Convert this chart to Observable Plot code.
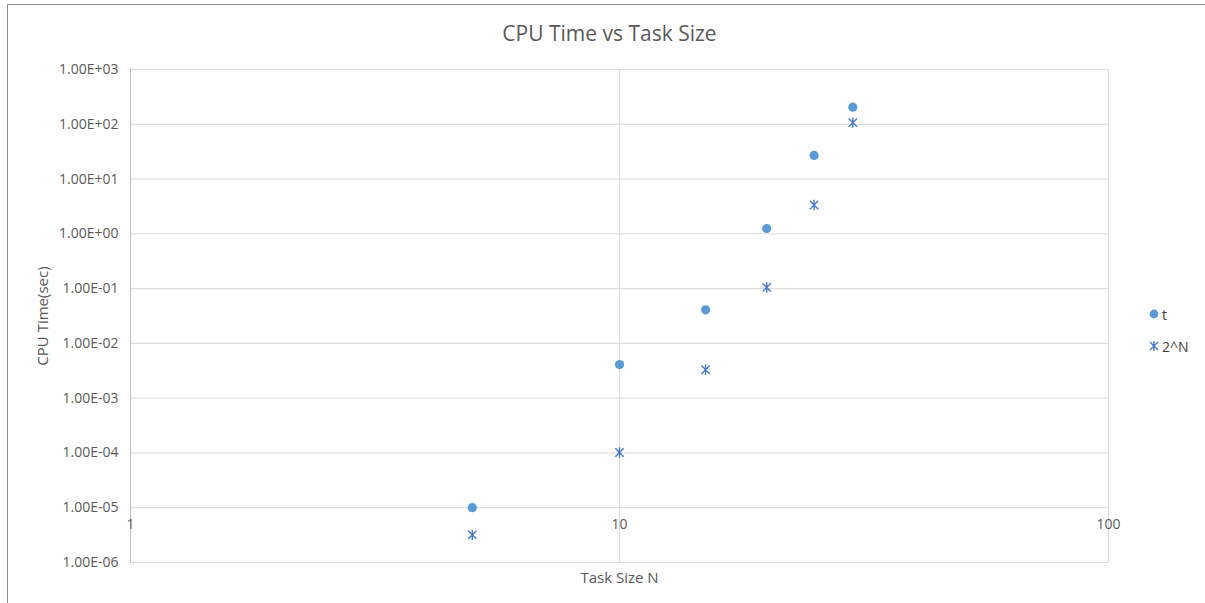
<!DOCTYPE html>
<html>
<head>
<meta charset="utf-8">
<script src="https://cdn.jsdelivr.net/npm/d3@7"></script>
<script src="https://cdn.jsdelivr.net/npm/@observablehq/plot@0.6"></script>
<style>
  html, body { margin: 0; padding: 0; background: #fff; }
  #wrap { position: relative; width: 1205px; height: 603px; overflow: hidden; background: #fff; font-family: "Open Sans", Lato, sans-serif; }
  #border { position: absolute; left: 7px; top: 4px; right: -2px; bottom: -2px; border-top: 1.5px solid #8c8c8c; border-left: 1.5px solid #8c8c8c; pointer-events: none; }
  #title { height: 50px; box-sizing: border-box; padding-top: 19px; line-height: 28px; text-align: center; font-size: 21px; color: #595959; padding-left: 14px; }
  #legend { position: absolute; left: 1148px; top: 298px; font-size: 14px; color: #404040; }
  .item { height: 32px; display: flex; align-items: center; }
  .item svg { margin-right: 2px; }
</style>
</head>
<body>
<div id="wrap">
  <div id="title">CPU Time vs Task Size</div>
  <div id="chart"></div>
  <div id="legend"></div>
  <div id="border"></div>
</div>
<script>
// Data
const taskSize = [5, 10, 15, 20, 25, 30];
const cpuTime = [1.0e-5, 4.1e-3, 4.1e-2, 1.25, 27, 205];
const twoPowN = [3.2e-6, 1.02e-4, 3.3e-3, 0.105, 3.36, 107];
const xTicks = [1, 10, 100];
const yTicks = [1e-6, 1e-5, 1e-4, 1e-3, 1e-2, 1e-1, 1, 1e1, 1e2, 1e3];
const seriesNames = ["t", "2^N"];

const circleColor = "#5b9bd5";
const starColor = "#4a78c8";

const rows = taskSize.map((n, i) => ({n, t: cpuTime[i], p: twoPowN[i]}));

function fmtE(d) {
  const [m, e] = d.toExponential(2).split("e");
  const ev = +e;
  return m + "E" + (ev < 0 ? "-" : "+") + String(Math.abs(ev)).padStart(2, "0");
}

const star = {
  draw(context, size) {
    const s = Math.sqrt(size / Math.PI);
    const d = s * 0.8;
    context.moveTo(0, -s); context.lineTo(0, s);
    context.moveTo(-d, -d); context.lineTo(d, d);
    context.moveTo(-d, d); context.lineTo(d, -d);
  }
};

const chart = Plot.plot({
  width: 1205,
  height: 553,
  marginLeft: 130,
  marginRight: 97,
  marginTop: 19,
  marginBottom: 41,
  style: { fontFamily: "'Open Sans', Lato, sans-serif", fontSize: "14px", color: "#595959", background: "transparent" },
  x: { type: "log", domain: [1, 100] },
  y: { type: "log", domain: [1e-6, 1e3] },
  marks: [
    Plot.gridY(yTicks, { stroke: "#d9d9d9", strokeOpacity: 1, strokeWidth: 1 }),
    Plot.gridX(xTicks, { stroke: "#d9d9d9", strokeOpacity: 1, strokeWidth: 1 }),
    Plot.ruleX([1], { stroke: "#bfbfbf" }),
    Plot.axisY({ ticks: yTicks, tickFormat: fmtE, tickSize: 0, tickPadding: 12, label: null, fill: "#595959" }),
    Plot.axisX({ ticks: xTicks, tickFormat: d => String(d), tickSize: 0, tickPadding: 0, dy: -43, label: null, fill: "#595959" }),
    Plot.dot(rows, { x: "n", y: "t", r: 4.6, fill: circleColor, stroke: "none", symbol: "circle" }),
    Plot.dot(rows, { x: "n", y: "p", r: 5.2, stroke: starColor, strokeWidth: 1.4, fill: "none", symbol: star }),
    Plot.text(["Task Size N"], { frameAnchor: "bottom", dy: 16, lineAnchor: "middle", textAnchor: "middle", fill: "#595959", fontSize: 15 }),
    Plot.text(["CPU Time(sec)"], { frameAnchor: "left", dx: -87, rotate: -90, lineAnchor: "middle", textAnchor: "middle", fill: "#595959", fontSize: 15 })
  ]
});
document.getElementById("chart").appendChild(chart);

// Legend
const legend = document.getElementById("legend");
const symPath = d3.symbol(star, Math.PI * 25)();
seriesNames.forEach((name, i) => {
  const item = document.createElement("div");
  item.className = "item";
  const svg = i === 0
    ? `<svg width="12" height="12" viewBox="-6 -6 12 12"><circle r="4.4" fill="${circleColor}"/></svg>`
    : `<svg width="12" height="12" viewBox="-6 -6 12 12"><path d="${symPath}" stroke="${starColor}" stroke-width="1.4" fill="none"/></svg>`;
  item.innerHTML = svg + `<span>${name}</span>`;
  legend.appendChild(item);
});
</script>
</body>
</html>
